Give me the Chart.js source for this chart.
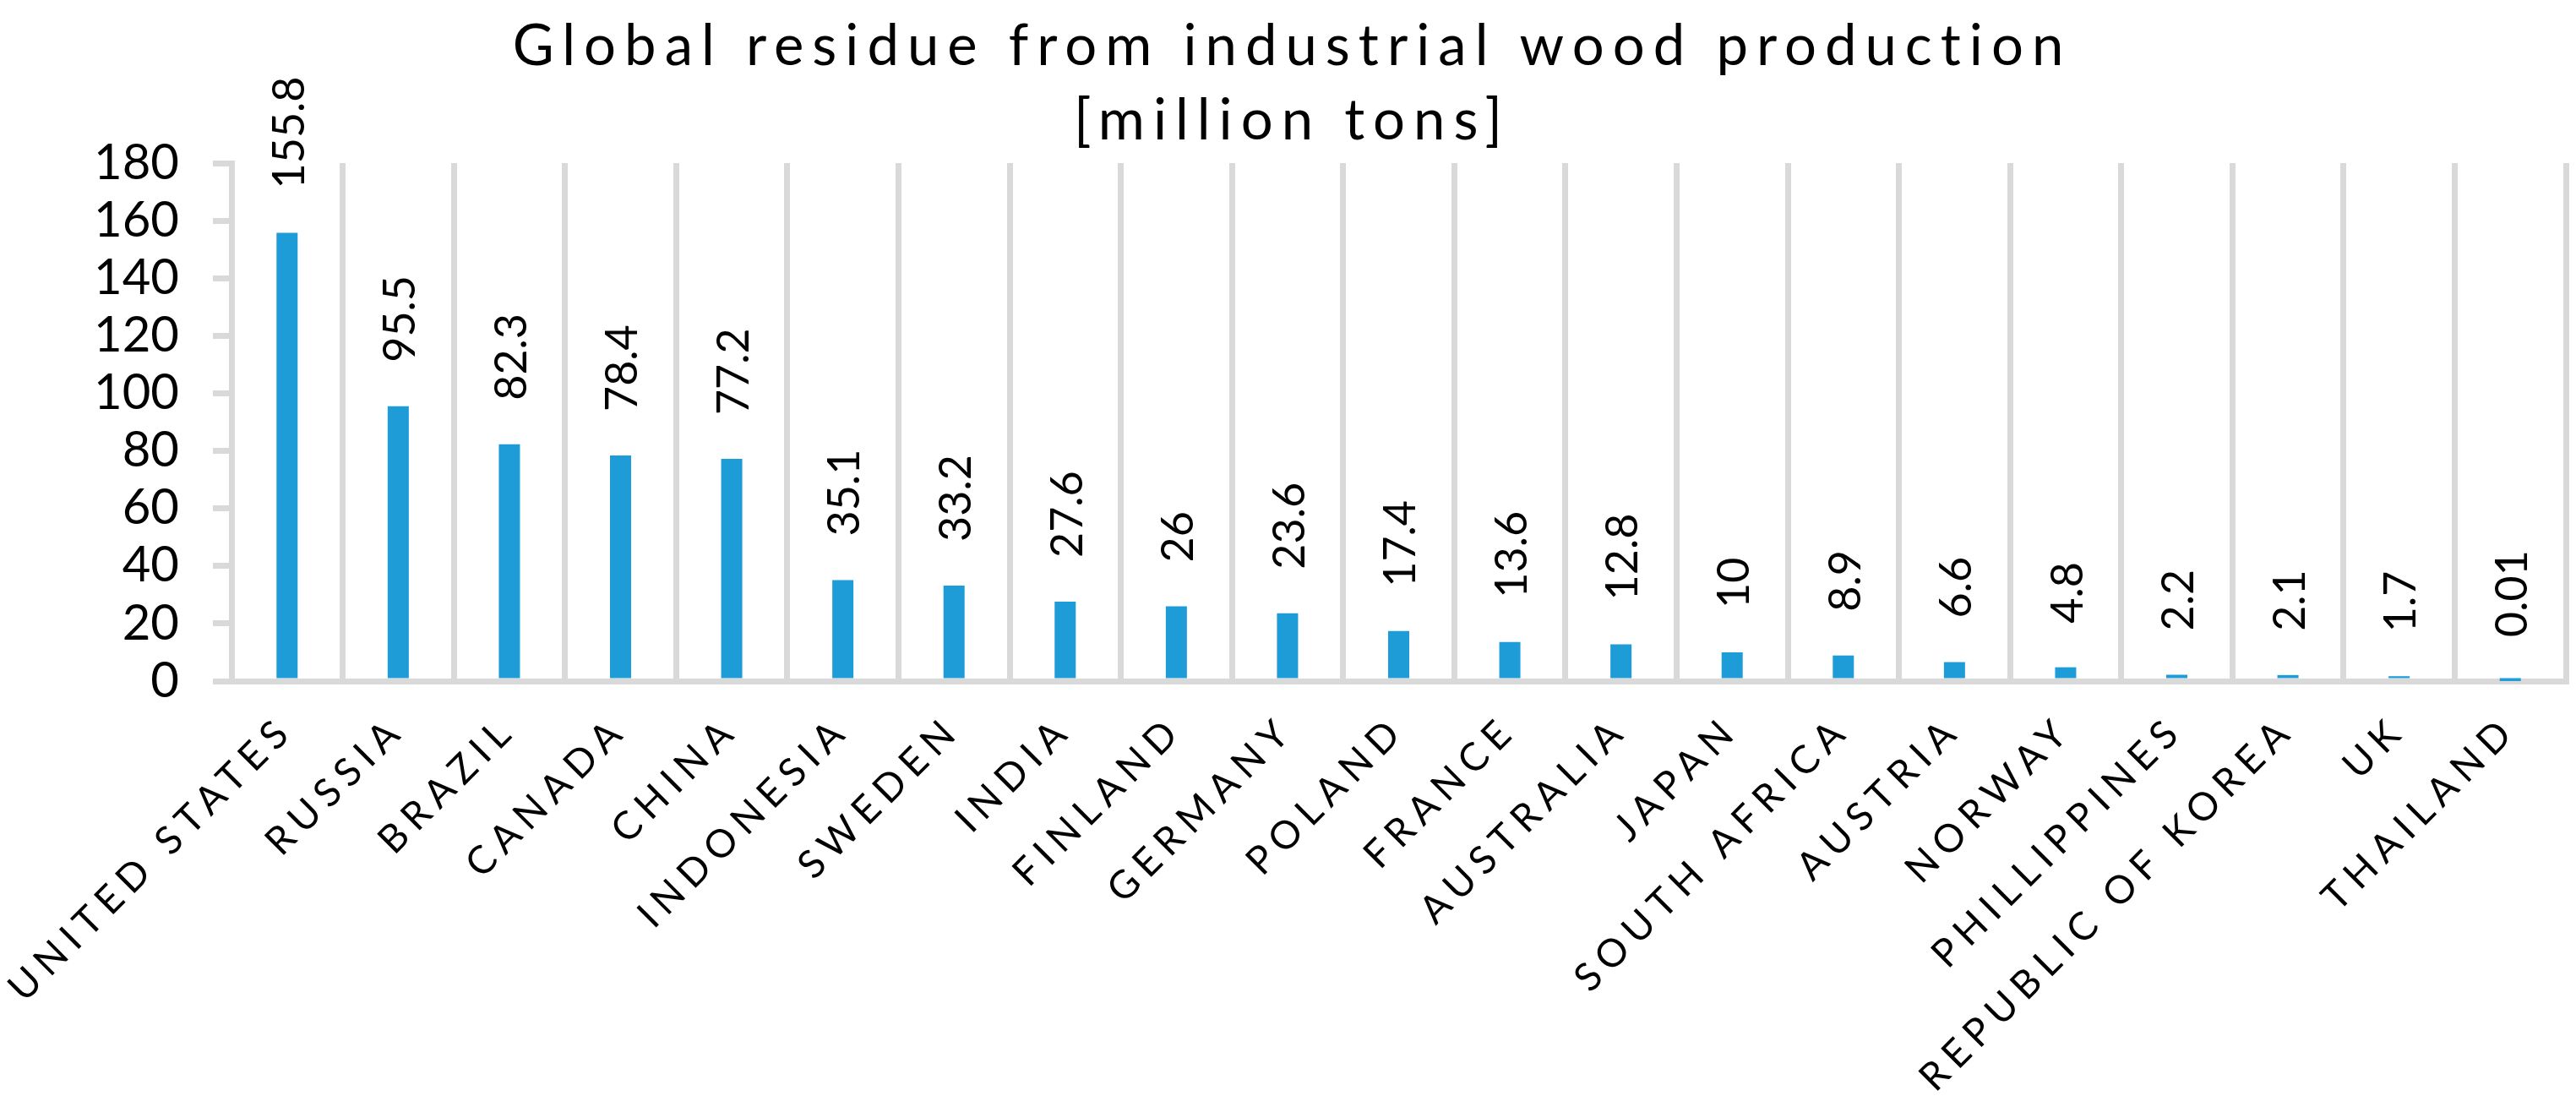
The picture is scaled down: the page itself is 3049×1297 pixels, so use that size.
<!DOCTYPE html>
<html>
<head>
<meta charset="utf-8">
<script src="https://cdn.jsdelivr.net/npm/chart.js@4.4.1/dist/chart.umd.min.js"></script>
<style>
  html, body { margin: 0; padding: 0; background: #fff; }
  #wrap { width: 3049px; height: 1297px; position: relative; }
</style>
</head>
<body>
<div id="wrap"><canvas id="residueChart"></canvas></div>
<script>
// data
const countries = ["UNITED STATES", "RUSSIA", "BRAZIL", "CANADA", "CHINA", "INDONESIA", "SWEDEN", "INDIA", "FINLAND", "GERMANY", "POLAND", "FRANCE", "AUSTRALIA", "JAPAN", "SOUTH AFRICA", "AUSTRIA", "NORWAY", "PHILLIPPINES", "REPUBLIC OF KOREA", "UK", "THAILAND"];
const residue = [155.8, 95.5, 82.3, 78.4, 77.2, 35.1, 33.2, 27.6, 26, 23.6, 17.4, 13.6, 12.8, 10, 8.9, 6.6, 4.8, 2.2, 2.1, 1.7, 0.01];
const titleLines = ["Global residue from industrial wood production", "[million tons]"];
const yTicks = [0, 20, 40, 60, 80, 100, 120, 140, 160, 180];

const FONT = "Lato, 'Open Sans', sans-serif";
const GRID = "#D9D9D9";

// category axis whose labels are drawn with wide letter spacing (like the original)
class SpacedCategoryScale extends Chart.CategoryScale {
  drawLabels(chartArea) {
    const ctx = this.ctx;
    ctx.save();
    ctx.letterSpacing = "9px";
    super.drawLabels(chartArea);
    ctx.restore();
  }
}
SpacedCategoryScale.id = "spacedCategory";
SpacedCategoryScale.defaults = Chart.CategoryScale.defaults;
Chart.register(SpacedCategoryScale);

// title with letter spacing, drawn on the canvas
const titlePlugin = {
  id: "spacedTitle",
  afterDraw(chart) {
    const ctx = chart.ctx;
    ctx.save();
    ctx.font = "67px " + FONT;
    ctx.fillStyle = "#000";
    ctx.textAlign = "center";
    ctx.textBaseline = "alphabetic";
    ctx.letterSpacing = "10px";
    const cx = chart.width / 2 + 5;
    titleLines.forEach((line, i) => ctx.fillText(line, cx, 77 + i * 88));
    ctx.restore();
  }
};

// vertical value labels above each bar
const valueLabels = {
  id: "valueLabels",
  afterDatasetsDraw(chart) {
    const ctx = chart.ctx;
    const meta = chart.getDatasetMeta(0);
    ctx.save();
    ctx.font = "52px " + FONT;
    ctx.fillStyle = "#000";
    ctx.textAlign = "left";
    ctx.textBaseline = "middle";
    meta.data.forEach((bar, i) => {
      ctx.save();
      ctx.translate(bar.x + 3, bar.y - 52);
      ctx.rotate(-Math.PI / 2);
      ctx.fillText(String(residue[i]), 0, 0);
      ctx.restore();
    });
    ctx.restore();
  }
};

new Chart(document.getElementById("residueChart"), {
  type: "bar",
  data: {
    labels: countries,
    datasets: [{
      data: residue,
      backgroundColor: "#1E9CD7",
      borderWidth: 0,
      categoryPercentage: 1,
      barPercentage: 0.19
    }]
  },
  options: {
    responsive: true,
    maintainAspectRatio: false,
    animation: false,
    layout: { padding: { top: 193, right: 12, bottom: 0, left: 0 } },
    plugins: {
      legend: { display: false },
      tooltip: { enabled: false },
      title: { display: false }
    },
    scales: {
      x: {
        type: "spacedCategory",
        grid: { display: true, color: GRID, lineWidth: 7, drawTicks: false },
        border: { display: true, color: GRID, width: 7 },
        ticks: {
          color: "#000",
          font: { family: FONT, size: 46 },
          minRotation: 45,
          maxRotation: 45,
          autoSkip: false,
          padding: 30
        },
        afterFit(scale) { scale.height = 491; }
      },
      y: {
        min: 0,
        max: 180,
        afterBuildTicks(scale) { scale.ticks = yTicks.map(v => ({ value: v })); },
        grid: { drawOnChartArea: false, drawTicks: true, tickLength: 22, color: GRID, lineWidth: 7 },
        border: { display: true, color: GRID, width: 7 },
        ticks: {
          color: "#000",
          font: { family: FONT, size: 58 },
          padding: 40,
          autoSkip: false
        },
        afterFit(scale) { scale.width = 274; }
      }
    }
  },
  plugins: [titlePlugin, valueLabels]
});
</script>
</body>
</html>
